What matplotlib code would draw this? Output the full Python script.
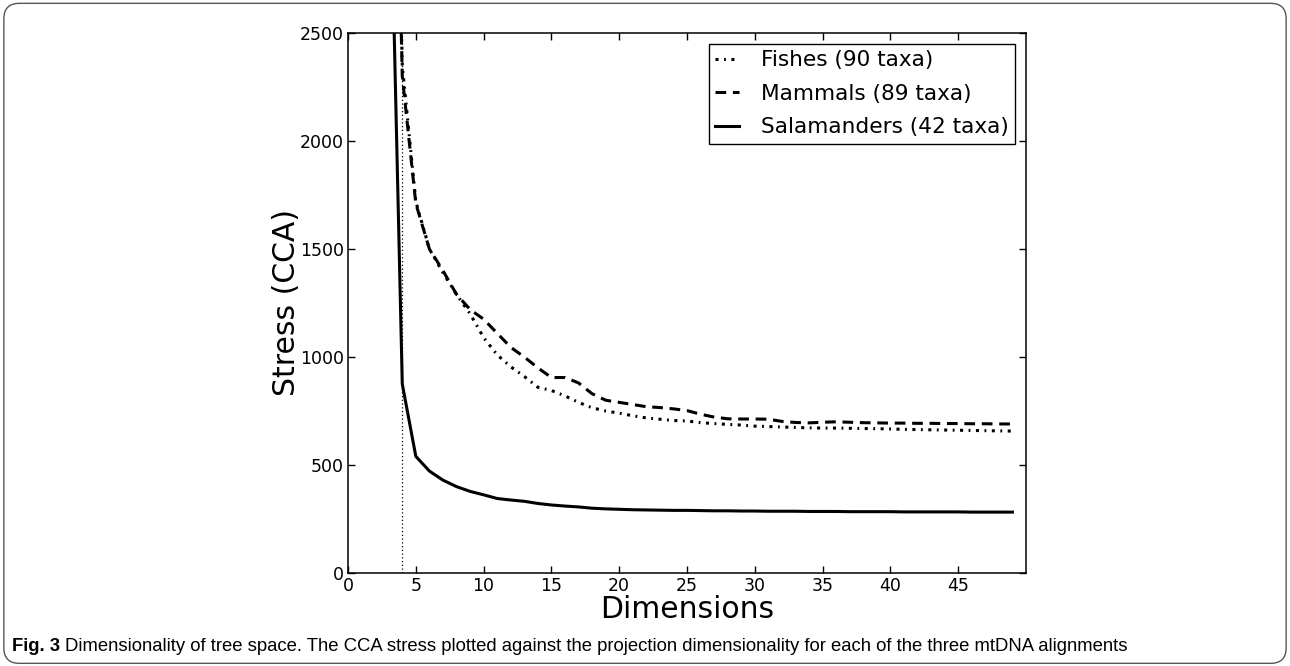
import numpy as np
import matplotlib
matplotlib.use('Agg')
import matplotlib.pyplot as plt
from matplotlib.patches import FancyBboxPatch

# stress values, one per projection dimension
dims = list(range(3, 50))
fishes = [5000, 2350, 1720, 1500, 1390, 1290, 1200, 1090, 1010, 955,
          910, 860, 845, 820, 790, 765, 750, 740, 728, 718,
          712, 706, 704, 696, 692, 688, 685, 680, 678, 676,
          674, 672, 671, 671, 670, 669, 668, 667, 665, 664,
          663, 662, 661, 660, 659, 658, 657]
mammals = [5000, 2300, 1710, 1500, 1400, 1290, 1220, 1175, 1110, 1045,
           1000, 950, 905, 905, 880, 830, 800, 790, 780, 770,
           766, 760, 752, 735, 722, 714, 713, 713, 712, 702,
           697, 695, 698, 700, 698, 696, 695, 694, 694, 693,
           693, 692, 692, 691, 691, 690, 690]
salamanders = [3600, 875, 540, 472, 430, 400, 378, 362, 345, 338,
               332, 322, 315, 310, 306, 300, 297, 295, 293, 292,
               291, 290, 290, 289, 288, 288, 287, 287, 286, 286,
               286, 285, 285, 285, 284, 284, 284, 284, 283, 283,
               283, 283, 283, 282, 282, 282, 282]
labels = ['Fishes (90 taxa)', 'Mammals (89 taxa)', 'Salamanders (42 taxa)']
chosen_dim = 4
caption_bold = 'Fig. 3'
caption = ('Dimensionality of tree space. The CCA stress plotted against the projection '
           'dimensionality for each of the three mtDNA alignments')

plt.rcParams['font.family'] = 'DejaVu Sans'
fig = plt.figure(figsize=(12.9, 6.66), dpi=100)
ax = fig.add_axes([0.2698, 0.1396, 0.7953 - 0.2698, 0.9505 - 0.1396])

ax.axvline(chosen_dim, color='k', lw=0.9, ls=(0, (1, 2)))
ax.plot(dims, fishes, color='k', lw=2.2, ls=(0, (1, 1.8, 0.6, 1.8)), label=labels[0])
ax.plot(dims, mammals, color='k', lw=2.2, ls=(0, (3.5, 2.2)), label=labels[1])
ax.plot(dims, salamanders, color='k', lw=2.2, label=labels[2])

ax.set_xlim(0, 50)
ax.set_ylim(0, 2500)
ax.set_xticks(range(0, 50, 5))
ax.set_yticks(range(0, 2501, 500))
ax.tick_params(direction='in', top=True, right=True, length=5, width=1,
               labelsize=12.5, pad=3)
ax.set_xlabel('Dimensions', fontsize=21.5, labelpad=0)
ax.set_ylabel('Stress (CCA)', fontsize=21.5, labelpad=-1)
for s in ax.spines.values():
    s.set_linewidth(1.1)

leg = ax.legend(loc='upper right', fontsize=15.6, fancybox=False, framealpha=1,
                edgecolor='k', handlelength=1.1, borderaxespad=0.5,
                labelspacing=0.62, handletextpad=1.0, borderpad=0.3)
leg.get_frame().set_linewidth(1)

# caption: bold label, then the rest right after it
t1 = fig.text(0.009, 0.0225, caption_bold, fontsize=13.3, fontweight='bold',
              family='Liberation Sans', va='baseline')
fig.canvas.draw()
bb = t1.get_window_extent()
x2 = (bb.x1 + 5) / fig.bbox.width
fig.text(x2, 0.0225, caption, fontsize=13.3, family='Liberation Sans', va='baseline')

# rounded frame around the figure
frame = FancyBboxPatch((0.003, 0.004), 0.994, 0.991,
                       boxstyle='round,pad=0,rounding_size=0.012',
                       transform=fig.transFigure, fill=False,
                       edgecolor='#555555', lw=1, mutation_aspect=1290 / 666)
fig.patches.append(frame)

fig.savefig('out.png', dpi=100)
